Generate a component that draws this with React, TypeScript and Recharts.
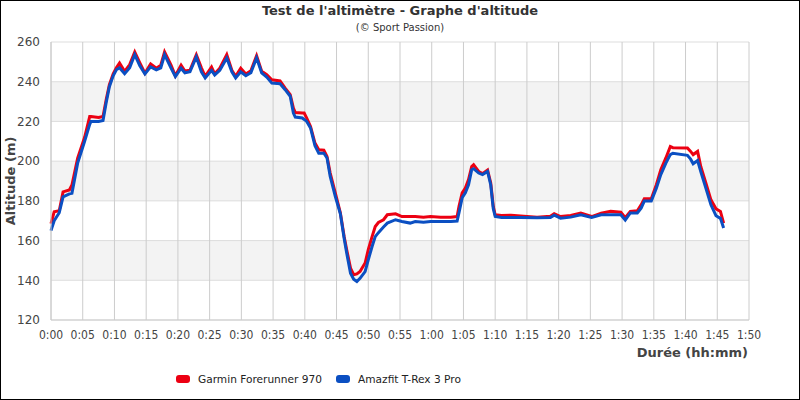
import { LineChart, Line, XAxis, YAxis, CartesianGrid } from 'recharts';

// elapsed time in minutes
const minutes = [
  0, 0.5, 1.3, 1.9, 2.9, 3.3, 4.2, 5.3, 6.1, 6.3, 7.5, 8.2, 8.7, 9.2, 9.8, 10.3, 10.8,
  11.6, 12.4, 13.2, 14, 14.8, 15.7, 16.6, 17.3, 17.9, 18.9, 19.6, 20.5, 21.1, 21.9,
  22.9, 23.7, 24.3, 25.3, 25.8, 26.6, 27.7, 28.5, 29.1, 29.9, 30.7, 31.5, 32.4, 33.2,
  34, 34.8, 36.1, 36.9, 37.7, 38.2, 38.5, 39.6, 39.9, 40.3, 40.9, 41.6, 42.2, 43,
  43.5, 44, 44.8, 45.6, 46.2, 46.6, 47.2, 47.7, 48.2, 48.7, 49.5, 50, 50.6, 51.1,
  51.6, 52.4, 53, 54.3, 55.3, 56.6, 57.4, 58.7, 59.8, 61.4, 63, 64, 64.3, 64.8,
  65.3, 65.8, 66.3, 66.6, 67.4, 68, 68.8, 69.3, 69.7, 70, 71, 72.5, 74, 76.6, 78.7,
  79.3, 80.3, 81.9, 83.5, 85.2, 86.7, 88.2, 89.8, 90.5, 91.3, 92.4, 93, 93.5, 94.6,
  95.4, 96.1, 96.9, 97.6, 98, 100.3, 100.8, 101.2, 101.9, 102.4, 103.2, 104, 104.8,
  105.5, 106,
];

const garmin = [
  168.5, 174.5, 175, 184.5, 185.5, 188, 201.5, 212, 222.5, 222.5, 222, 222.5, 231,
  238.5, 244, 247, 249.4, 245.2, 248.6, 255, 249.5, 244.3, 249, 246.8, 248.3, 255,
  248.5, 243, 248.3, 245.4, 245.8, 253.6, 247, 242.7, 247.4, 244, 246.8, 253.6, 245.8,
  242.7, 246.8, 243.9, 245.5, 253.1, 245.3, 243.5, 241, 240.4, 236.8, 233.5, 226.7,
  224.5, 224.2, 224.2, 221.7, 217.5, 209.1, 205.7, 205.5, 202.4, 194, 184, 174, 162,
  155.4, 146.1, 142.8, 143.2, 144.4, 148.7, 155.4, 162, 167.1, 169.1, 170.5, 173,
  173.5, 172.1, 172.1, 172.1, 171.8, 172.1, 171.8, 171.8, 172.1, 177.2, 184, 186.5,
  190.7, 197.3, 198.2, 194.8, 193.7, 195.5, 189, 177.2, 173, 172.6, 172.8, 172.4,
  171.8, 172.2, 173.5, 172.1, 172.6, 173.9, 172.1, 173.8, 174.7, 174.3, 171.5, 174.7,
  175, 178, 181.1, 181.1, 188.1, 195.7, 201.6, 207.4, 206.8, 206.6, 204.9, 203.3,
  204.9, 197.3, 189, 180.5, 176, 174.7, 168.8,
];

const amazfit = [
  165, 170, 174, 182, 183.5, 183.8, 199, 210, 218.5, 220, 220, 220.5, 229.5, 237.5,
  243, 246, 247, 244, 247, 253.6, 248, 243.9, 247.5, 246, 247, 253.6, 247, 242.6,
  246.8, 244.5, 245, 252.5, 245, 241.9, 245.7, 243.4, 245.7, 251.9, 245, 241.9, 245,
  243, 244.5, 252, 244.5, 242.3, 239.3, 239, 236, 232.7, 224.2, 222.2, 221.7, 221,
  220, 216.7, 207.8, 204, 204, 201.6, 192.3, 182.3, 173.5, 161, 153.7, 143.6, 140.5,
  139.4, 141, 144.4, 150.3, 157, 162, 164, 166.8, 168.8, 170.5, 169.6, 168.8, 169.6,
  169.2, 169.6, 169.6, 169.6, 169.8, 174, 181.6, 184, 188.1, 195.7, 196.2, 194, 193.2,
  194.8, 188, 176, 172.1, 171.6, 171.6, 171.6, 171.5, 171.6, 172.8, 171.3, 171.8, 173,
  171.6, 173, 173, 173, 170.3, 173.9, 173.9, 176.3, 179.9, 179.9, 186.4, 193.2, 199,
  203.3, 204, 202.9, 201, 198.7, 200.3, 194.8, 186.4, 178, 172.5, 171.2, 166.3,
];

const xTicks = [0, 5, 10, 15, 20, 25, 30, 35, 40, 45, 50, 55, 60, 65, 70, 75, 80, 85, 90, 95, 100, 105, 110];
const yTicks = [120, 140, 160, 180, 200, 220, 240, 260];

const RED = '#ec0012';
const BLUE = '#0b4fc2';
const FONT = "'DejaVu Sans', Verdana, sans-serif";

function formatDuration(v: number) {
  const h = Math.floor(v / 60);
  const m = v % 60;
  return `${h}:${String(m).padStart(2, '0')}`;
}

export default function App() {
  const data = minutes.map((t, i) => ({ t, garmin: garmin[i], amazfit: amazfit[i] }));

  return (
    <div style={{ position: 'absolute', left: 0, top: 0, width: 800, height: 400, background: '#fff', fontFamily: FONT }}>
      <LineChart width={800} height={400} data={data} margin={{ top: 42, right: 51, bottom: 50, left: 0 }}>
        <CartesianGrid vertical={false} stroke="#dddddd" horizontalFill={['#ffffff', '#f3f3f3']} fillOpacity={1} />
        <CartesianGrid horizontal={false} stroke="#cccccc" />
        <XAxis
          dataKey="t"
          type="number"
          domain={[0, 110]}
          ticks={xTicks}
          tickFormatter={formatDuration}
          tick={{ fontSize: 12, fill: '#444', fontFamily: "'DejaVu Sans Condensed', 'DejaVu Sans', sans-serif", fontStretch: 'condensed' }}
          axisLine={{ stroke: '#cccccc' }}
          tickLine={false}
          tickMargin={4}
          height={30}
          interval={0}
        />
        <YAxis
          domain={[120, 260]}
          ticks={yTicks}
          tick={{ fontSize: 12, fill: '#444', fontFamily: FONT }}
          axisLine={{ stroke: '#cccccc' }}
          tickLine={false}
          tickMargin={5}
          width={51}
          interval={0}
        />
        <Line type="linear" dataKey="garmin" stroke={RED} strokeWidth={3} dot={false} isAnimationActive={false} />
        <Line type="linear" dataKey="amazfit" stroke={BLUE} strokeWidth={3} dot={false} isAnimationActive={false} />
      </LineChart>

      {/* titles */}
      <div style={{ position: 'absolute', left: 0, top: 3, width: 800, textAlign: 'center', fontSize: 13, fontWeight: 'bold', color: '#333', lineHeight: '15px' }}>
        Test de l'altimètre - Graphe d'altitude
      </div>
      <div style={{ position: 'absolute', left: 0, top: 22, width: 800, textAlign: 'center', fontSize: 10, color: '#333', lineHeight: '12px' }}>
        (© Sport Passion)
      </div>
      <div style={{ position: 'absolute', left: 10, top: 181, width: 0, height: 0 }}>
        <div style={{ position: 'absolute', transform: 'translate(-50%, -50%) rotate(-90deg)', whiteSpace: 'nowrap', fontSize: 13, fontWeight: 'bold', color: '#444', lineHeight: '15px' }}>
          Altitude (m)
        </div>
      </div>
      <div style={{ position: 'absolute', right: 52, top: 345, fontSize: 13, fontWeight: 'bold', color: '#444', lineHeight: '15px', whiteSpace: 'nowrap' }}>
        Durée (hh:mm)
      </div>

      {/* legend */}
      <div style={{ position: 'absolute', left: 176, top: 372, display: 'flex', alignItems: 'center', fontSize: 10.6, color: '#222', lineHeight: '14px' }}>
        <span style={{ display: 'inline-block', width: 14, height: 8, borderRadius: 3, background: RED, marginRight: 8 }} />
        <span style={{ marginRight: 14 }}>Garmin Forerunner 970</span>
        <span style={{ display: 'inline-block', width: 14, height: 8, borderRadius: 3, background: BLUE, marginRight: 8 }} />
        <span>Amazfit T-Rex 3 Pro</span>
      </div>

      <div style={{ position: 'absolute', left: 0, top: 0, width: 800, height: 400, boxSizing: 'border-box', border: '1px solid #000', pointerEvents: 'none' }} />
    </div>
  );
}
